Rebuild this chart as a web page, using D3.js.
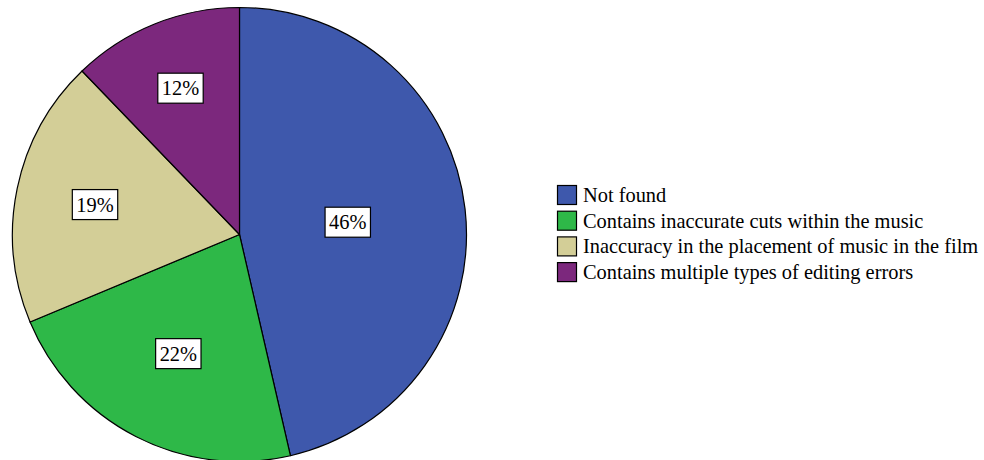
<!DOCTYPE html>
<html>
<head>
<meta charset="utf-8">
<script src="https://cdn.jsdelivr.net/npm/d3@7/dist/d3.min.js"></script>
<style>
  html, body { margin: 0; padding: 0; background: #fff; }
  svg { display: block; }
</style>
</head>
<body>
<svg id="chart" width="984" height="460"></svg>
<script>
// Types of music-editing errors found (percent of films)
const categories = [
  "Not found",
  "Contains inaccurate cuts within the music",
  "Inaccuracy in the placement of music in the film",
  "Contains multiple types of editing errors"
];
const percents = [46.4, 22.3, 19.1, 12.2];
const colors = ["#3e58ac", "#2eb848", "#d3ce97", "#7c287d"];

// label distance from the centre, as a fraction of the pie radius
const labelRadiusFrac = [0.48, 0.59, 0.65, 0.695];

const W = 984, H = 460;
const cx = 239.5, cy = 234.5, R = 227;
const FONT = '"Liberation Serif"';
const FS = 20.4;

const svg = d3.select("#chart");
const data = categories.map((c, i) => ({ name: c, value: percents[i], color: colors[i], i }));

const pie = d3.pie().sort(null).value(d => d.value);
const arcs = pie(data);
const arc = d3.arc().innerRadius(0).outerRadius(R);

const g = svg.append("g").attr("transform", `translate(${cx},${cy})`);

g.selectAll("path.slice")
  .data(arcs)
  .join("path")
  .attr("class", "slice")
  .attr("d", arc)
  .attr("fill", d => d.data.color)
  .attr("stroke", "#000")
  .attr("stroke-width", 1.2)
  .attr("stroke-linejoin", "round");

// value labels in white boxes
const fmt = v => d3.format(".0f")(v) + "%";
const labels = g.selectAll("g.lbl")
  .data(arcs)
  .join("g")
  .attr("class", "lbl")
  .attr("transform", d => {
    const r = R * labelRadiusFrac[d.data.i];
    const a = (d.startAngle + d.endAngle) / 2;
    return `translate(${Math.sin(a) * r},${-Math.cos(a) * r})`;
  });

labels.each(function(d) {
  const sel = d3.select(this);
  const t = sel.append("text")
    .attr("text-anchor", "middle")
    .attr("y", 7)
    .attr("font-size", FS)
    .style("font-family", FONT)
    .attr("fill", "#000")
    .text(fmt(d.data.value));
  const bb = t.node().getBBox();
  const padX = 4, boxH = 30;
  sel.insert("rect", "text")
    .attr("x", bb.x - padX)
    .attr("y", -boxH / 2)
    .attr("width", bb.width + padX * 2)
    .attr("height", boxH)
    .attr("fill", "#fff")
    .attr("stroke", "#000")
    .attr("stroke-width", 1.2);
});

// legend
const legX = 557, legY = 185, rowH = 25.7, sw = 19;
const leg = svg.append("g").attr("transform", `translate(${legX},${legY})`);
const rows = leg.selectAll("g.row")
  .data(data)
  .join("g")
  .attr("class", "row")
  .attr("transform", (d, i) => `translate(0,${i * rowH})`);

rows.append("rect")
  .attr("x", 0.5).attr("y", 0.5)
  .attr("width", sw).attr("height", sw)
  .attr("fill", d => d.color)
  .attr("stroke", "#000")
  .attr("stroke-width", 1.2);

rows.append("text")
  .attr("x", 26)
  .attr("y", 17)
  .attr("font-size", FS)
  .style("font-family", FONT)
  .attr("fill", "#000")
  .text(d => d.name);
</script>
</body>
</html>
